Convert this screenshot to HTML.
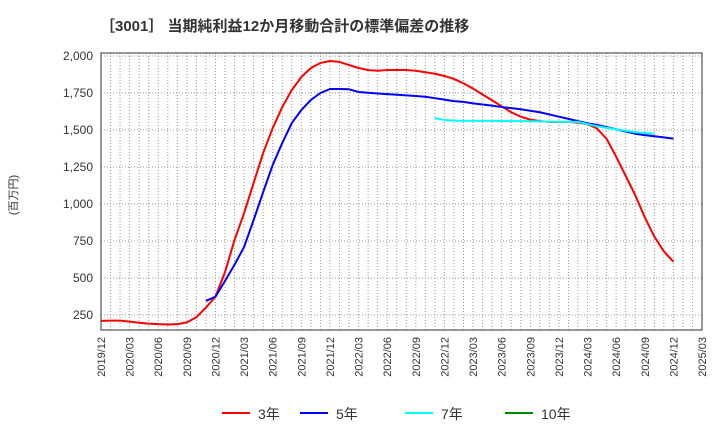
<!DOCTYPE html>
<html><head><meta charset="utf-8"><style>
body{margin:0;background:#fff;font-family:"Liberation Sans","Noto Sans CJK JP",sans-serif}
svg text{font-family:"Liberation Sans","Noto Sans CJK JP",sans-serif}
</style></head><body>
<svg id="c" width="720" height="440">
<text x="100" y="31" font-size="15" font-weight="bold" fill="#333">［3001］ 当期純利益12か月移動合計の標準偏差の推移</text>
<text x="17" y="195" font-size="11" fill="#333" transform="rotate(-90 17 195)" text-anchor="middle">(百万円)</text>
<g id="grid"></g>
<g id="yt"></g>
<g id="xt"></g>
<g id="lines"></g>
<rect x="101" y="53" width="601" height="277" fill="none" stroke="#333" stroke-width="1"/>
<g>
<g><line x1="222" y1="413" x2="250" y2="413" stroke="#f00" stroke-width="2"/><text x="258" y="419" font-size="14" fill="#333">3年</text></g>
<g><line x1="300" y1="413" x2="328" y2="413" stroke="#00f" stroke-width="2"/><text x="336" y="419" font-size="14" fill="#333">5年</text></g>
<g><line x1="405" y1="413" x2="433" y2="413" stroke="#0ff" stroke-width="2"/><text x="441" y="419" font-size="14" fill="#333">7年</text></g>
<g><line x1="505" y1="413" x2="533" y2="413" stroke="#080" stroke-width="2"/><text x="541" y="419" font-size="14" fill="#333">10年</text></g>
</g>
</svg>
<script>
const yTicks=[250,500,750,1000,1250,1500,1750,2000];
const xLabels=["2019/12","2020/03","2020/06","2020/09","2020/12","2021/03","2021/06","2021/09","2021/12","2022/03","2022/06","2022/09","2022/12","2023/03","2023/06","2023/09","2023/12","2024/03","2024/06","2024/09","2024/12","2025/03"];
const s3Start=0;
const s3=[210,212,212,205,198,192,188,186,188,200,235,300,374,540,757,939,1142,1345,1513,1655,1770,1858,1919,1953,1966,1960,1939,1919,1905,1900,1905,1905,1905,1900,1890,1880,1865,1845,1815,1780,1740,1700,1660,1620,1590,1570,1560,1555,1555,1555,1550,1540,1510,1440,1320,1190,1060,910,780,680,610];
const s5Start=11;
const s5=[345,374,480,590,710,892,1081,1264,1412,1547,1635,1703,1750,1777,1777,1775,1757,1752,1747,1742,1738,1734,1730,1725,1715,1705,1695,1690,1680,1672,1665,1655,1648,1640,1630,1620,1605,1590,1575,1560,1545,1535,1520,1505,1490,1475,1465,1458,1450,1442];
const s7Start=35;
const s7=[1580,1568,1563,1562,1562,1562,1562,1561,1560,1560,1559,1558,1557,1556,1555,1555,1540,1525,1515,1505,1495,1485,1480,1475];
const NS="http://www.w3.org/2000/svg";
const X=m=>101+m*601/63, Y=v=>56+(2000-v)/250*37;
function mk(t,a,p){const e=document.createElementNS(NS,t);for(const k in a)e.setAttribute(k,a[k]);p.appendChild(e);return e;}
const g=document.getElementById('grid');
for(let m=1;m<63;m++){const l=mk('line',{x1:X(m),x2:X(m),y1:53,y2:330,stroke:'#999','stroke-dasharray':'1,2','stroke-width':1},g);

}
const yt=document.getElementById('yt');
yTicks.forEach(v=>{const l=mk('line',{x1:101,x2:702,y1:Y(v),y2:Y(v),stroke:'#999','stroke-dasharray':'1,2'},g);


const t=mk('text',{x:93,y:Y(v)+4,'font-size':12,fill:'#333','text-anchor':'end'},yt);t.textContent=v.toLocaleString('en-US');

});
const xt=document.getElementById('xt');
xLabels.forEach((s,i)=>{const x=X(i*3)+4,y=337;const t=mk('text',{x:x,y:y,'font-size':11,fill:'#333','text-anchor':'end',transform:`rotate(-90 ${x} ${y})`},xt);t.textContent=s;

});
const lg=document.getElementById('lines');
[[s3,s3Start,'#f00','series-3y'],[s5,s5Start,'#00f','series-5y'],[s7,s7Start,'#0ff','series-7y']].forEach(([d,st,c,n])=>{
const p=mk('polyline',{points:d.map((v,i)=>X(st+i)+','+Y(v)).join(' '),fill:'none',stroke:c,'stroke-width':2,'stroke-linejoin':'round'},lg);

});
</script>
</body></html>
